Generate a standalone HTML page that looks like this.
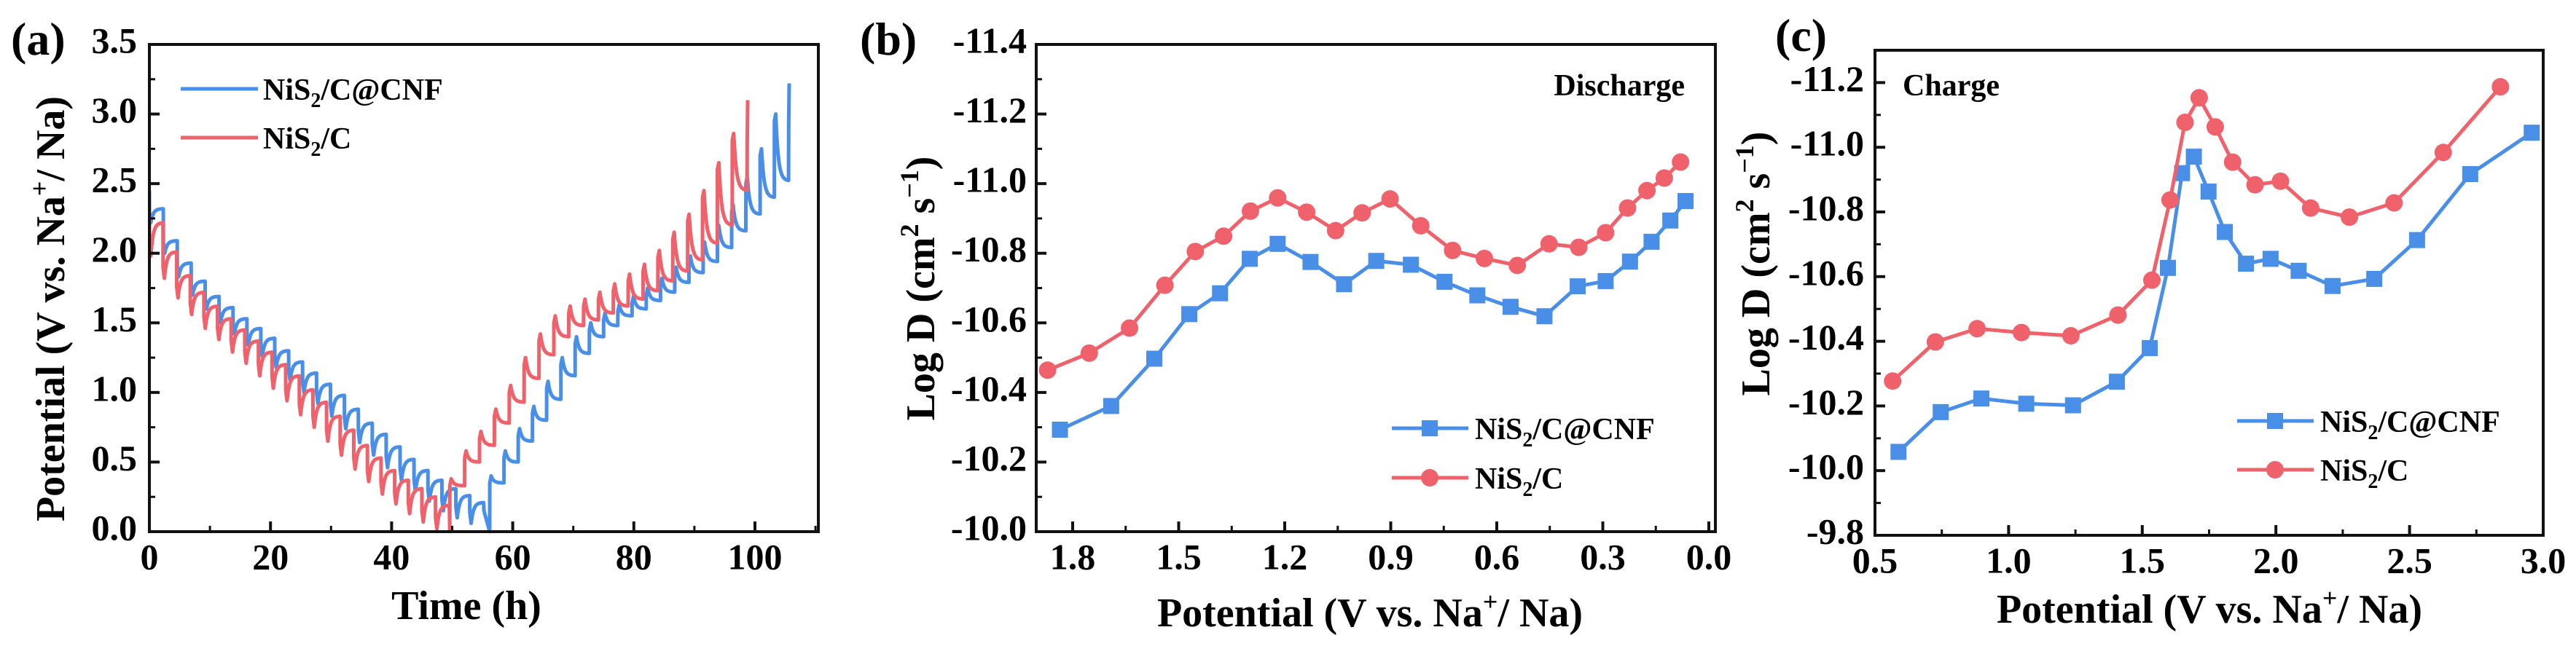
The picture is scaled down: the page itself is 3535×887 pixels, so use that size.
<!DOCTYPE html>
<html><head><meta charset="utf-8">
<style>
html,body{margin:0;padding:0;background:#fff;}
svg{display:block;font-family:"Liberation Serif","DejaVu Serif",serif;font-weight:bold;}
</style></head>
<body>
<svg id="fig" width="3535" height="887" viewBox="0 0 3535 887" xmlns="http://www.w3.org/2000/svg">
<g id="pa"></g>
<g id="pb"></g>
<g id="pc"></g>
</svg>
<script>
// ---------- Panel (a) GITT data ----------
const aXTicks = [0, 20, 40, 60, 80, 100];
const aYTicks = [0.0, 0.5, 1.0, 1.5, 2.0, 2.5, 3.0, 3.5];
const blueDisStart = 0, blueDisPeriod = 2.3, blueOCV = 2.45;
const blueDisRest = [2.32,2.09,1.93,1.80,1.69,1.61,1.53,1.46,1.39,1.30,1.22,1.14,1.06,0.98,0.88,0.78,0.70,0.61,0.52,0.44,0.37,0.31,0.26,0.21];
const blueDisEnd  = [2.22,2.00,1.83,1.70,1.60,1.50,1.42,1.34,1.26,1.18,1.09,1.00,0.92,0.83,0.74,0.64,0.55,0.46,0.37,0.29,0.22,0.15,0.10,0.06];
const blueChgStart = 56.2, blueChgPeriod = 2.35;
const blueChgEnd  = [0.40,0.58,0.74,0.90,1.08,1.25,1.40,1.50,1.57,1.63,1.69,1.75,1.82,1.90,1.98,2.08,2.20,2.35,2.55,2.75,3.00,3.22];
const blueChgRest = [0.35,0.50,0.65,0.80,0.95,1.12,1.28,1.40,1.48,1.55,1.60,1.66,1.72,1.79,1.86,1.94,2.04,2.16,2.28,2.40,2.52];
const redDisStart = 0, redDisPeriod = 2.25, redOCV = 2.32;
const redDisRest = [2.22,2.01,1.84,1.72,1.62,1.53,1.45,1.37,1.29,1.20,1.12,1.02,0.93,0.83,0.73,0.62,0.53,0.44,0.37,0.31,0.25,0.19];
const redDisEnd  = [1.98,1.82,1.68,1.56,1.46,1.38,1.29,1.21,1.12,1.03,0.94,0.84,0.75,0.65,0.55,0.45,0.36,0.27,0.20,0.13,0.07,0.02];
const redChgStart = 49.6, redChgPeriod = 2.455;
const redChgEnd  = [0.38,0.58,0.72,0.88,1.05,1.25,1.42,1.55,1.62,1.67,1.72,1.78,1.85,1.92,2.02,2.15,2.28,2.45,2.65,2.86,3.10];
const redChgRest = [0.33,0.50,0.62,0.78,0.93,1.10,1.27,1.40,1.48,1.52,1.57,1.62,1.67,1.73,1.80,1.87,1.95,2.07,2.20,2.45];

// ---------- Panel (b) discharge ----------
const bXTicks = [1.8, 1.5, 1.2, 0.9, 0.6, 0.3, 0.0];
const bYTicks = [-10.0,-10.2,-10.4,-10.6,-10.8,-11.0,-11.2,-11.4];
const bBlueX = [1.836,1.691,1.569,1.470,1.383,1.299,1.220,1.127,1.032,0.941,0.843,0.748,0.655,0.561,0.465,0.371,0.292,0.223,0.162,0.109,0.066];
const bBlueY = [-10.293,-10.361,-10.497,-10.625,-10.685,-10.784,-10.827,-10.775,-10.711,-10.778,-10.767,-10.718,-10.679,-10.646,-10.619,-10.705,-10.720,-10.776,-10.833,-10.894,-10.950];
const bRedX = [1.871,1.753,1.639,1.539,1.453,1.373,1.297,1.220,1.138,1.056,0.981,0.902,0.815,0.725,0.635,0.542,0.452,0.368,0.292,0.230,0.175,0.126,0.080];
const bRedY = [-10.464,-10.513,-10.585,-10.708,-10.805,-10.849,-10.921,-10.959,-10.918,-10.865,-10.916,-10.956,-10.879,-10.808,-10.785,-10.765,-10.827,-10.817,-10.859,-10.930,-10.980,-11.016,-11.062];

// ---------- Panel (c) charge ----------
const cXTicks = [0.5, 1.0, 1.5, 2.0, 2.5, 3.0];
const cYTicks = [-9.8,-10.0,-10.2,-10.4,-10.6,-10.8,-11.0,-11.2];
const cBlueX = [0.588,0.746,0.898,1.066,1.241,1.405,1.528,1.596,1.649,1.693,1.748,1.809,1.888,1.980,2.085,2.212,2.368,2.528,2.727,2.957];
const cBlueY = [-10.058,-10.181,-10.223,-10.207,-10.202,-10.275,-10.379,-10.627,-10.920,-10.971,-10.863,-10.738,-10.640,-10.655,-10.618,-10.571,-10.593,-10.713,-10.917,-11.045];
const cRedX = [0.566,0.726,0.882,1.048,1.233,1.409,1.536,1.604,1.660,1.713,1.773,1.838,1.922,2.017,2.130,2.275,2.442,2.626,2.840];
const cRedY = [-10.277,-10.398,-10.439,-10.427,-10.417,-10.481,-10.589,-10.837,-11.077,-11.153,-11.063,-10.954,-10.884,-10.895,-10.812,-10.784,-10.828,-10.984,-11.187];

const NS = "http://www.w3.org/2000/svg";
const BLUE = "#4a8fe7", RED = "#ef626b";
function mk(parent, tag, attrs, text) {
  const e = document.createElementNS(NS, tag);
  for (const k in attrs) e.setAttribute(k, attrs[k]);
  if (text !== undefined) e.textContent = text;
  parent.appendChild(e);
  return e;
}
function scale(d0, d1, r0, r1) { return v => r0 + (v - d0) * (r1 - r0) / (d1 - d0); }

function frame(g, L, T, R, B, xs, ys, xTicks, yTicks, xMinor, yMinor, xFmt, yFmt, yLabRight, xLabY) {
  xTicks.forEach(v => {
    const t = mk(g, "line", {x1: xs(v), x2: xs(v), y1: B, y2: B - 14, stroke: "#111", "stroke-width": 4});
    
    
    const lb = mk(g, "text", {x: xs(v), y: xLabY, "font-size": 50, "text-anchor": "middle", "dominant-baseline": "middle"}, xFmt(v));
    
    
  });
  xMinor.forEach(v => {
    const t = mk(g, "line", {x1: xs(v), x2: xs(v), y1: B, y2: B - 8, stroke: "#111", "stroke-width": 3});
    
    
  });
  yTicks.forEach(v => {
    const t = mk(g, "line", {x1: L, x2: L + 14, y1: ys(v), y2: ys(v), stroke: "#111", "stroke-width": 4});
    
    
    const lb = mk(g, "text", {x: yLabRight, y: ys(v), "font-size": 50, "text-anchor": "end", "dominant-baseline": "middle"}, yFmt(v));
    
    
  });
  yMinor.forEach(v => {
    const t = mk(g, "line", {x1: L, x2: L + 8, y1: ys(v), y2: ys(v), stroke: "#111", "stroke-width": 3});
    
    
  });
  const r = mk(g, "rect", {x: L, y: T, width: R - L, height: B - T, fill: "none", stroke: "#111", "stroke-width": 4});
  
  
}

// ---------- Panel A ----------
(function(){
  const g = document.getElementById("pa");
  const L = 205, R = 1123, T = 61, B = 730;
  const xs = scale(0, 100, 205, 1036), ys = scale(0, 3.5, B, T);
  const cp = mk(g, "clipPath", {id: "clipA"}); mk(cp, "rect", {x: L, y: T, width: R - L, height: B - T + 3});
  function gitt(start, period, ocv, disEnd, disRest, chgStart, chgPeriod, chgEnd, chgRest) {
    const pts = [];
    let t = start, v = ocv;
    pts.push([t, v]);
    const relax = (t0, P, e, r) => { for (let k = 0; k <= 20; k++) { const s = k / 20; pts.push([t0 + 0.1 * P + s * 0.9 * P, r + (e - r) * Math.exp(-5 * s)]); } };
    disEnd.forEach((e, i) => {
      const t0 = start + i * period;
      pts.push([t0 + 0.01, e + 0.08]); pts.push([t0 + 0.1 * period, e]);
      relax(t0, period, e, disRest[i]);
    });
    let tEnd = start + disEnd.length * period;
    pts.push([tEnd + 0.05, 0.15]); pts.push([chgStart, 0.0]);
    chgEnd.forEach((e, i) => {
      const t0 = chgStart + i * chgPeriod;
      if (i < chgRest.length) {
        pts.push([t0 + 0.01, e - 0.05]); pts.push([t0 + 0.1 * chgPeriod, e]);
        relax(t0, chgPeriod, e, chgRest[i]);
      } else {
        pts.push([t0 + 0.02, e - 0.3]); pts.push([t0 + 0.1, e]);
      }
    });
    return pts.map(p => xs(p[0]).toFixed(1) + "," + ys(p[1]).toFixed(1)).join(" ");
  }
  const lb = mk(g, "polyline", {points: gitt(blueDisStart, blueDisPeriod, blueOCV, blueDisEnd, blueDisRest, blueChgStart, blueChgPeriod, blueChgEnd, blueChgRest), fill: "none", stroke: BLUE, "stroke-width": 5, "stroke-linejoin": "round", "clip-path": "url(#clipA)"});
  
  
  const lr = mk(g, "polyline", {points: gitt(redDisStart, redDisPeriod, redOCV, redDisEnd, redDisRest, redChgStart, redChgPeriod, redChgEnd, redChgRest), fill: "none", stroke: RED, "stroke-width": 5, "stroke-linejoin": "round", "clip-path": "url(#clipA)"});
  
  
  frame(g, L, T, R, B, xs, ys, aXTicks, aYTicks, [10,30,50,70,90,110].filter(v=>xs(v)<R), [0.25,0.75,1.25,1.75,2.25,2.75,3.25], v => String(v), v => v.toFixed(1), 188, 770);
})();

// ---------- Panel B ----------
(function(){
  const g = document.getElementById("pb");
  const L = 1422, R = 2354, T = 61, B = 730;
  const xs = scale(1.8, 0.0, 1472, 2345), ys = scale(-10.0, -11.4, B, T);
  const bl = mk(g, "polyline", {points: bBlueX.map((x, i) => xs(x) + "," + ys(bBlueY[i])).join(" "), fill: "none", stroke: BLUE, "stroke-width": 5});
  
  
  bBlueX.forEach((x, i) => {
    const m = mk(g, "rect", {x: xs(x) - 11, y: ys(bBlueY[i]) - 11, width: 22, height: 22, fill: BLUE});
    
    
  });
  const rl = mk(g, "polyline", {points: bRedX.map((x, i) => xs(x) + "," + ys(bRedY[i])).join(" "), fill: "none", stroke: RED, "stroke-width": 5});
  
  
  bRedX.forEach((x, i) => {
    const m = mk(g, "circle", {cx: xs(x), cy: ys(bRedY[i]), r: 12, fill: RED});
    
    
  });
  frame(g, L, T, R, B, xs, ys, bXTicks, bYTicks, [1.65,1.35,1.05,0.75,0.45,0.15], [-10.1,-10.3,-10.5,-10.7,-10.9,-11.1,-11.3], v => v.toFixed(1), v => v.toFixed(1), 1409, 770);
})();

// ---------- Panel C ----------
(function(){
  const g = document.getElementById("pc");
  const L = 2573, R = 3490, T = 69, B = 735;
  const xs = scale(0.5, 3.0, L, R), ys = scale(-9.8, -11.3, B, T);
  const bl = mk(g, "polyline", {points: cBlueX.map((x, i) => xs(x) + "," + ys(cBlueY[i])).join(" "), fill: "none", stroke: BLUE, "stroke-width": 5});
  
  
  cBlueX.forEach((x, i) => {
    const m = mk(g, "rect", {x: xs(x) - 11, y: ys(cBlueY[i]) - 11, width: 22, height: 22, fill: BLUE});
    
    
  });
  const rl = mk(g, "polyline", {points: cRedX.map((x, i) => xs(x) + "," + ys(cRedY[i])).join(" "), fill: "none", stroke: RED, "stroke-width": 5});
  
  
  cRedX.forEach((x, i) => {
    const m = mk(g, "circle", {cx: xs(x), cy: ys(cRedY[i]), r: 12, fill: RED});
    
    
  });
  frame(g, L, T, R, B, xs, ys, cXTicks, cYTicks, [0.75,1.25,1.75,2.25,2.75], [-9.9,-10.1,-10.3,-10.5,-10.7,-10.9,-11.1,-11.3], v => v.toFixed(1), v => v.toFixed(1), 2558, 775);
})();
</script>
<div style="position:absolute;left:0;top:0;">
<svg width="3535" height="887" xmlns="http://www.w3.org/2000/svg" style="font-family:'Liberation Serif','DejaVu Serif',serif;font-weight:bold;">
  <text x="15" y="75" font-size="64">(a)</text>
  <text x="1180" y="75" font-size="64">(b)</text>
  <text x="2436" y="70" font-size="64">(c)</text>
  <text x="640" y="850" font-size="56" text-anchor="middle">Time (h)</text>
  <text transform="translate(88,424) rotate(-90)" font-size="56" text-anchor="middle">Potential (V vs. Na<tspan font-size="36" dy="-22">+</tspan><tspan dy="22">/ Na)</tspan></text>
  <text x="1880" y="860" font-size="56" text-anchor="middle">Potential (V vs. Na<tspan font-size="36" dy="-22">+</tspan><tspan dy="22">/ Na)</tspan></text>
  <text transform="translate(1282,396) rotate(-90)" font-size="56" text-anchor="middle">Log D (cm<tspan font-size="36" dy="-22">2</tspan><tspan dy="22"> s</tspan><tspan font-size="36" dy="-22">−1</tspan><tspan dy="22">)</tspan></text>
  <text x="3032" y="855" font-size="56" text-anchor="middle">Potential (V vs. Na<tspan font-size="36" dy="-22">+</tspan><tspan dy="22">/ Na)</tspan></text>
  <text transform="translate(2428,362) rotate(-90)" font-size="56" text-anchor="middle">Log D (cm<tspan font-size="36" dy="-22">2</tspan><tspan dy="22"> s</tspan><tspan font-size="36" dy="-22">−1</tspan><tspan dy="22">)</tspan></text>
  <text x="2312" y="131" font-size="42" text-anchor="end">Discharge</text>
  <text x="2611" y="131" font-size="42">Charge</text>
  <g>
    <line x1="248" y1="122" x2="354" y2="122" stroke="#4a8fe7" stroke-width="5"/>
    <text x="361" y="137" font-size="42">NiS<tspan font-size="28" dy="10">2</tspan><tspan dy="-10">/C@CNF</tspan></text>
    <line x1="248" y1="189" x2="354" y2="189" stroke="#ef626b" stroke-width="5"/>
    <text x="361" y="204" font-size="42">NiS<tspan font-size="28" dy="10">2</tspan><tspan dy="-10">/C</tspan></text>
  </g>
  <g>
    <line x1="1910" y1="588" x2="2015" y2="588" stroke="#4a8fe7" stroke-width="5"/>
    <rect x="1951" y="577" width="22" height="22" fill="#4a8fe7"/>
    <text x="2024" y="603" font-size="42">NiS<tspan font-size="28" dy="10">2</tspan><tspan dy="-10">/C@CNF</tspan></text>
    <line x1="1910" y1="656" x2="2015" y2="656" stroke="#ef626b" stroke-width="5"/>
    <circle cx="1962" cy="656" r="12" fill="#ef626b"/>
    <text x="2024" y="671" font-size="42">NiS<tspan font-size="28" dy="10">2</tspan><tspan dy="-10">/C</tspan></text>
  </g>
  <g>
    <line x1="3070" y1="578" x2="3175" y2="578" stroke="#4a8fe7" stroke-width="5"/>
    <rect x="3111" y="567" width="22" height="22" fill="#4a8fe7"/>
    <text x="3184" y="593" font-size="42">NiS<tspan font-size="28" dy="10">2</tspan><tspan dy="-10">/C@CNF</tspan></text>
    <line x1="3070" y1="645" x2="3175" y2="645" stroke="#ef626b" stroke-width="5"/>
    <circle cx="3122" cy="645" r="12" fill="#ef626b"/>
    <text x="3184" y="660" font-size="42">NiS<tspan font-size="28" dy="10">2</tspan><tspan dy="-10">/C</tspan></text>
  </g>
</svg>
</div>
</body></html>
